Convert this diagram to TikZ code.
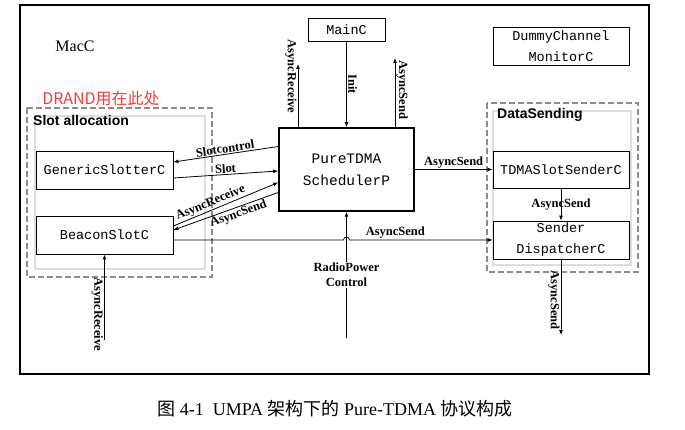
\documentclass[tikz,border=0pt]{standalone}
\usepackage{fontspec}
\setmainfont{Liberation Serif}
\newfontfamily\cjk{Noto Sans CJK SC}
\newfontfamily\boxfont{Liberation Mono}
\newfontfamily\grpfont{Liberation Sans}
\usepackage{tikz}
\usetikzlibrary{arrows.meta,positioning,calc}
\usepackage{xcolor}
\definecolor{drandred}{RGB}{240,60,60}
\definecolor{groupgray}{RGB}{140,140,140}
\definecolor{innergray}{RGB}{222,222,222}
\tikzset{
    compnode/.style={
        rectangle,
        draw,
        fill=white,
        line width=0.9pt,
        inner sep=0pt,
        align=center,
        font=\boxfont\fontsize{13.5}{21}\selectfont
    },
    schednode/.style={
        compnode,
        line width=1.5pt,
        font=\boxfont\fontsize{14.5}{22}\selectfont
    },
    groupbox/.style={
        draw=groupgray,
        line width=1.2pt,
        dash pattern=on 6pt off 3pt
    },
    groupinner/.style={
        draw=innergray,
        line width=2pt
    },
    grouplabel/.style={
        anchor=west,
        inner sep=0pt,
        font=\grpfont\bfseries\fontsize{14}{16}\selectfont
    },
    wire/.style={
        -{Latex[length=5pt,width=4pt]},
        line width=0.8pt
    },
    thickwire/.style={
        wire,
        line width=1.4pt
    },
    wirelabel/.style={
        inner sep=1pt,
        font=\bfseries\fontsize{12.5}{15}\selectfont
    },
    vlabel/.style={
        wirelabel,
        rotate=-90
    }
}

\begin{document}
\begin{tikzpicture}[x=1pt,y=-1pt]
    \useasboundingbox (0,0) rectangle (685,430);

    % Outer MacC frame
    \draw[line width=1.2pt] (20,5) rectangle (649,374);
    \node[font=\fontsize{16}{18}\selectfont] (macc) at (75,46) {MacC};

    % Group boxes
    \draw[groupinner] (35,116) rectangle (205,269);
    \draw[groupbox] (27,108) rectangle (212,277);
    \draw[groupinner] (493,111) rectangle (631,265);
    \draw[groupbox] (487,103) rectangle (638,272);
    \node[grouplabel] (slotlbl) at (33,120) {Slot allocation};
    \node[grouplabel] (datalbl) at (497,115) {DataSending};
    \node[text=drandred, font=\cjk\fontsize{16}{18}\selectfont] (drand) at (101,98) {DRAND用在此处};

    % Components
    \node[compnode, minimum width=77pt, minimum height=23pt] (mainc) at (346.5,29.5) {MainC};
    \node[compnode, minimum width=136pt, minimum height=38pt] (dummy) at (561,46) {DummyChannel\\MonitorC};
    \node[schednode, minimum width=135pt, minimum height=83pt] (sched) at (346.5,169.5) {PureTDMA\\SchedulerP};
    \node[compnode, minimum width=137pt, minimum height=38pt] (gen) at (104.5,170) {GenericSlotterC};
    \node[compnode, minimum width=137pt, minimum height=38pt] (beacon) at (104.5,235) {BeaconSlotC};
    \node[compnode, minimum width=136pt, minimum height=37pt] (slotsender) at (561,169.5) {TDMASlotSenderC};
    \node[compnode, minimum width=136pt, minimum height=38pt] (dispatch) at (561,240) {Sender\\DispatcherC};

    % Free ends
    \coordinate (recvtop) at (298,64);
    \coordinate (sendtop) at (395,58);
    \coordinate (dispout) at (561,335);
    \coordinate (radiobot) at (346.5,338);
    \coordinate (recvbot) at (104.5,340);

    % Scheduler top
    \draw[thickwire] (mainc.south) -- node[vlabel, anchor=south, pos=0.5] (linit) {Init} (sched.north);
    \draw[wire] (sched.north -| recvtop) -- node[vlabel, anchor=north, pos=0.8] (lrecvtop) {AsyncReceive} (recvtop);
    \draw[wire] (sched.north -| sendtop) -- node[vlabel, anchor=south, pos=0.54] (lsendtop) {AsyncSend} (sendtop);

    % Slot allocation links
    \draw[wire] ($(sched.west)+(0,-23)$) -- node[wirelabel, above, sloped] (lslotctl) {Slotcontrol} ($(gen.east)+(0,-8)$);
    \draw[wire] ($(gen.east)+(0,8)$) -- node[wirelabel, above, sloped] (lslot) {Slot} ($(sched.west)+(0,1.5)$);
    \draw[wire] ($(beacon.east)+(0,-9)$) -- node[wirelabel, above, sloped, pos=0.38] (lbrecv) {AsyncReceive} ($(sched.west)+(0,13)$);
    \draw[wire] ($(sched.west)+(0,23)$) -- node[wirelabel, below, sloped, pos=0.4] (lbsend) {AsyncSend} ($(beacon.east)+(0,-5)$);
    \draw[wire] (recvbot) -- node[vlabel, anchor=north, pos=0.3] (lrecvbot) {AsyncReceive} (beacon.south);

    % Data sending links
    \draw[thickwire] (sched.east) -- node[wirelabel, above] (lsend) {AsyncSend} (slotsender.west);
    \draw[wire] (slotsender.south) -- node[wirelabel] (lsendmid) {AsyncSend} (dispatch.north);
    \draw[wire] (dispatch.south) -- node[vlabel, anchor=north, pos=0.54] (ldispout) {AsyncSend} (dispout);

    % Radio power and hop-over line
    \draw[wire] (radiobot) -- node[wirelabel, fill=white, align=center, pos=0.5] (lradio) {RadioPower\\Control} (sched.south);
    \draw[wire] ($(beacon.east)+(0,5)$) coordinate (hopstart)
        -- ($(hopstart -| radiobot)+(-3,0)$) arc[start angle=180, end angle=0, radius=3pt]
        -- node[wirelabel, above, pos=0.32] (lhop) {AsyncSend} (dispatch.west |- hopstart);

    % Caption
    \node[font=\fontsize{18}{21}\selectfont] (caption) at (335,409) {{\cjk 图} 4-1\ \ UMPA {\cjk 架构下的} Pure-TDMA {\cjk 协议构成}};
\end{tikzpicture}
\end{document}
